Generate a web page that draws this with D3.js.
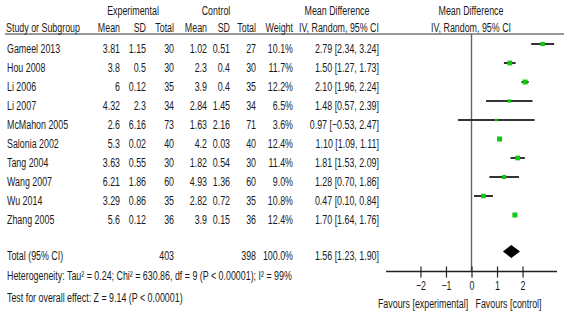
<!DOCTYPE html>
<html lang="en">
<head>
<meta charset="utf-8">
<script src="https://d3js.org/d3.v7.min.js"></script>
<style>
    body { margin: 0; background: #fff; }
    svg text { font-family: 'Liberation Sans', Arial, sans-serif; font-size: 12.5px; fill: #1a1a1a; }
</style>
</head>
<body>
<script>
    var width = 564, height = 314;

    // data
    var studies = ["Gameel 2013", "Hou 2008", "Li 2006", "Li 2007", "McMahon 2005", "Salonia 2002",
                   "Tang 2004", "Wang 2007", "Wu 2014", "Zhang 2005"];
    var expMean = ["3.81", "3.8", "6", "4.32", "2.6", "5.3", "3.63", "6.21", "3.29", "5.6"];
    var expSD = ["1.15", "0.5", "0.12", "2.3", "6.16", "0.02", "0.55", "1.86", "0.86", "0.12"];
    var expTotal = [30, 30, 35, 34, 73, 40, 30, 60, 35, 36];
    var ctlMean = ["1.02", "2.3", "3.9", "2.84", "1.63", "4.2", "1.82", "4.93", "2.82", "3.9"];
    var ctlSD = ["0.51", "0.4", "0.4", "1.45", "2.16", "0.03", "0.54", "1.36", "0.72", "0.15"];
    var ctlTotal = [27, 30, 35, 34, 71, 40, 30, 60, 35, 36];
    var weight = [10.1, 11.7, 12.2, 6.5, 3.6, 12.4, 11.4, 9.0, 10.8, 12.4];
    var md = [2.79, 1.50, 2.10, 1.48, 0.97, 1.10, 1.81, 1.28, 0.47, 1.70];
    var lower = [2.34, 1.27, 1.96, 0.57, -0.53, 1.09, 1.53, 0.70, 0.10, 1.64];
    var upper = [3.24, 1.73, 2.24, 2.39, 2.47, 1.11, 2.09, 1.86, 0.84, 1.76];
    var total = {exp: 403, ctl: 398, md: 1.56, lo: 1.23, hi: 1.90};
    var axisTicks = [-2, -1, 0, 1, 2];

    var fmt = d3.format(".2f");
    var squeeze = " scale(0.71,1)";   // narrow-font look

    var svg = d3.select("body").append("svg").attr("width", width).attr("height", height);

    var x = d3.scaleLinear().domain([-3.35, 3.35]).range([386, 557]);
    var y = d3.scaleLinear().domain([0, 9]).range([44, 215]);
    var size = d3.scaleLinear().domain([0, 12.4]).range([1.5, 5]);

    function txt(sel, xp, yp, s, anchor) {
        return sel.append("text")
            .attr("transform", "translate(" + xp + "," + yp + ")" + squeeze)
            .attr("text-anchor", anchor || "start").text(s);
    }

    // header
    txt(svg, 133, 14.5, "Experimental", "middle");
    txt(svg, 216, 14.5, "Control", "middle");
    txt(svg, 337, 14.5, "Mean Difference", "middle");
    txt(svg, 471, 14.5, "Mean Difference", "middle");
    txt(svg, 471, 31.5, "IV, Random, 95% CI", "middle");
    txt(svg, 6, 31.5, "Study or Subgroup");
    var hdr = [["Mean", 120], ["SD", 146], ["Total", 174], ["Mean", 207], ["SD", 230], ["Total", 256], ["Weight", 293], ["IV, Random, 95% CI", 379]];
    hdr.forEach(function(h) { txt(svg, h[1], 31.5, h[0], "end"); });

    svg.append("line").attr("x1", 5).attr("x2", 564).attr("y1", 34).attr("y2", 34)
        .attr("stroke", "#333").attr("stroke-width", 1.2);

    // study rows
    var cols = [
        {x: 120, v: function(i) { return expMean[i]; }},
        {x: 146, v: function(i) { return expSD[i]; }},
        {x: 174, v: function(i) { return expTotal[i]; }},
        {x: 207, v: function(i) { return ctlMean[i]; }},
        {x: 230, v: function(i) { return ctlSD[i]; }},
        {x: 256, v: function(i) { return ctlTotal[i]; }},
        {x: 293, v: function(i) { return d3.format(".1f")(weight[i]) + "%"; }},
        {x: 379, v: function(i) { return fmt(md[i]) + " [" + fmt(lower[i]) + ", " + fmt(upper[i]) + "]"; }}
    ];

    var rows = svg.selectAll("g.row").data(studies).join("g").attr("class", "row")
        .attr("transform", function(d, i) { return "translate(0," + (y(i) + 8.5) + ")"; });
    rows.append("text").attr("transform", "translate(7,0)" + squeeze).text(function(d) { return d; });
    cols.forEach(function(c) {
        rows.append("text").attr("transform", "translate(" + c.x + ",0)" + squeeze)
            .attr("text-anchor", "end").text(function(d, i) { return c.v(i); });
    });

    // zero line
    svg.append("line").attr("x1", x(0)).attr("x2", x(0)).attr("y1", 34).attr("y2", 271)
        .attr("stroke", "#666").attr("stroke-width", 1.4);

    // CI lines and squares
    svg.selectAll("line.ci").data(studies).join("line").attr("class", "ci")
        .attr("x1", function(d, i) { return x(lower[i]); })
        .attr("x2", function(d, i) { return x(upper[i]); })
        .attr("y1", function(d, i) { return y(i); })
        .attr("y2", function(d, i) { return y(i); })
        .attr("stroke", "#333").attr("stroke-width", 2);

    svg.selectAll("rect.pt").data(studies).join("rect").attr("class", "pt")
        .attr("x", function(d, i) { return x(md[i]) - size(weight[i]) / 2; })
        .attr("y", function(d, i) { return y(i) - size(weight[i]) / 2; })
        .attr("width", function(d, i) { return size(weight[i]); })
        .attr("height", function(d, i) { return size(weight[i]); })
        .attr("fill", "#12c812");

    // total row
    var ty = 251.5;
    txt(svg, 7, 259.5, "Total (95% CI)");
    txt(svg, 174, 259.5, total.exp, "end");
    txt(svg, 256, 259.5, total.ctl, "end");
    txt(svg, 293, 259.5, "100.0%", "end");
    txt(svg, 379, 259.5, fmt(total.md) + " [" + fmt(total.lo) + ", " + fmt(total.hi) + "]", "end");
    svg.append("path")
        .attr("d", "M" + x(total.lo) + "," + ty + "L" + x(total.md) + "," + (ty - 6.5) +
                   "L" + x(total.hi) + "," + ty + "L" + x(total.md) + "," + (ty + 6.5) + "Z")
        .attr("fill", "#000");

    txt(svg, 7, 279.5, "Heterogeneity: Tau\u00b2 = 0.24; Chi\u00b2 = 630.86, df = 9 (P < 0.00001); I\u00b2 = 99%");
    txt(svg, 7, 301.5, "Test for overall effect: Z = 9.14 (P < 0.00001)");

    // axis
    var ax = svg.append("g").attr("transform", "translate(0,271.5)")
        .call(d3.axisBottom(x).tickValues(axisTicks).tickSize(5).tickFormat(d3.format("d")));
    ax.select(".domain").attr("d", "M386,0H557").attr("stroke", "#222").attr("stroke-width", 1.3);
    ax.selectAll(".tick line").attr("y1", -5).attr("y2", 6).attr("stroke", "#222").attr("stroke-width", 1.2);
    ax.selectAll(".tick text").attr("y", 10).attr("dy", "0.71em").attr("transform", squeeze)
        .style("font-family", "'Liberation Sans', Arial, sans-serif").style("font-size", "12.5px").attr("fill", "#1a1a1a");

    txt(svg, x(-1.9), 307.5, "Favours [experimental]", "middle");
    txt(svg, x(1.45), 307.5, "Favours [control]", "middle");
</script>
</body>
</html>
